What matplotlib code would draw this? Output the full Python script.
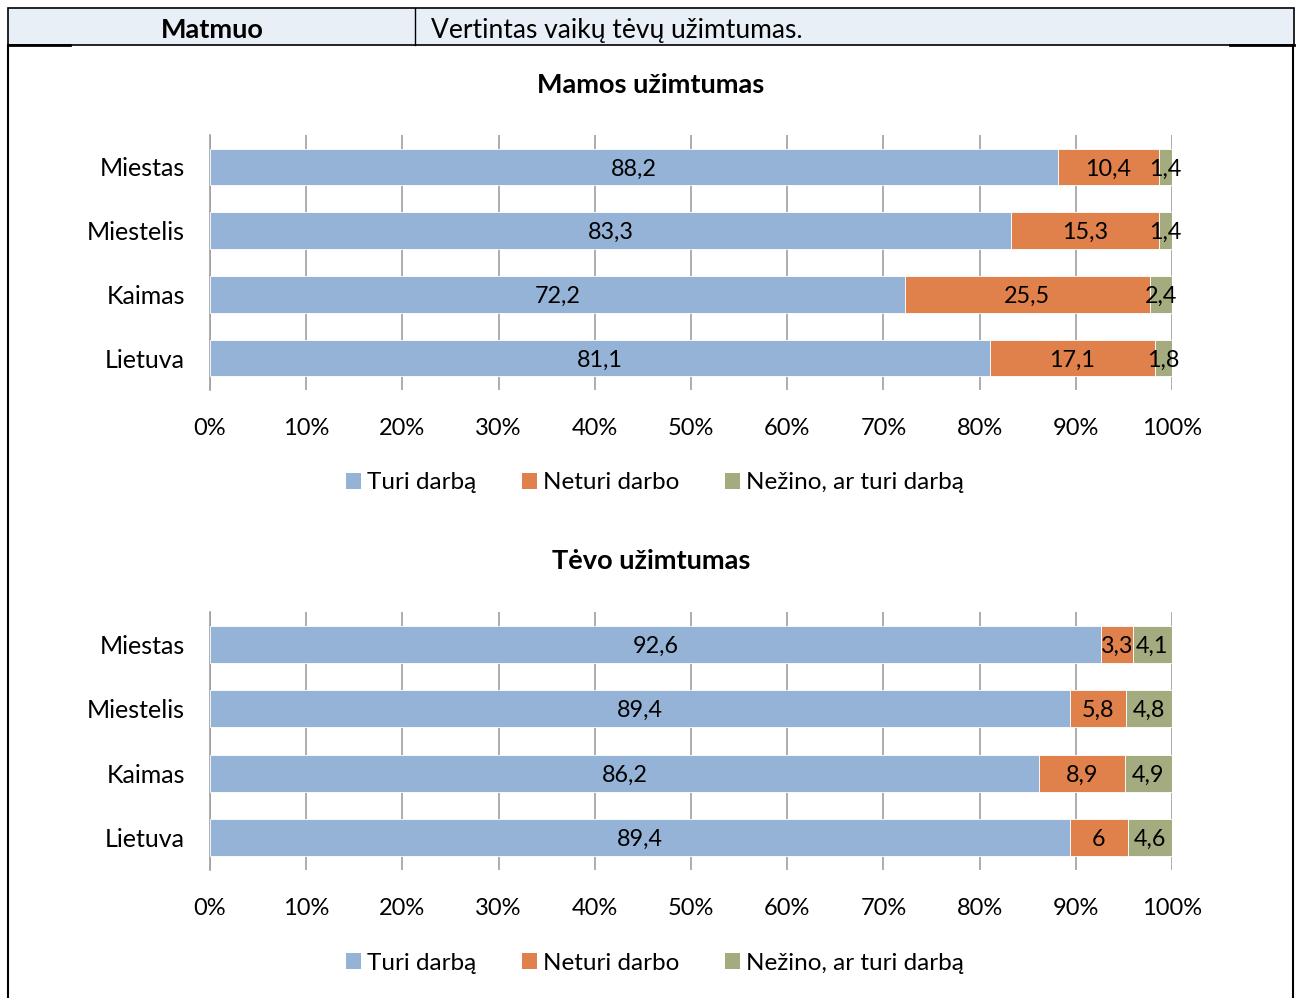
import matplotlib
matplotlib.use("Agg")
import matplotlib.pyplot as plt
from matplotlib.patches import Rectangle, Patch
from matplotlib.lines import Line2D
import numpy as np

plt.rcParams['font.family'] = ['Lato', 'DejaVu Sans']

categories = ["Miestas", "Miestelis", "Kaimas", "Lietuva"]
series_names = ["Turi darbą", "Neturi darbo", "Nežino, ar turi darbą"]
mama_turi = [88.2, 83.3, 72.2, 81.1]
mama_neturi = [10.4, 15.3, 25.5, 17.1]
mama_nezino = [1.4, 1.4, 2.4, 1.8]
tevas_turi = [92.6, 89.4, 86.2, 89.4]
tevas_neturi = [3.3, 5.8, 8.9, 6.0]
tevas_nezino = [4.1, 4.8, 4.9, 4.6]
tick_labels = ["0%", "10%", "20%", "30%", "40%", "50%", "60%", "70%", "80%", "90%", "100%"]
colors = ["#95B3D7", "#E0804A", "#A4AC7F"]

W, H = 1301, 998
fig = plt.figure(figsize=(W / 100, H / 100), dpi=100)

def fx(x):
    return x / W

def fy(y):
    return 1 - y / H

# Header / table frame
fig.patches.append(Rectangle((fx(8), fy(45)), fx(1294 - 8), (45 - 8) / H,
                             transform=fig.transFigure, facecolor="#E9EFF6",
                             edgecolor="black", linewidth=1.2))
fig.lines.append(Line2D([fx(415), fx(415)], [fy(8), fy(45)], transform=fig.transFigure,
                        color="black", linewidth=1.0))
fig.lines.append(Line2D([fx(8), fx(8)], [fy(45), fy(998)], transform=fig.transFigure,
                        color="black", linewidth=1.5))
fig.lines.append(Line2D([fx(1293), fx(1293)], [fy(45), fy(998)], transform=fig.transFigure,
                        color="black", linewidth=1.5))
fig.lines.append(Line2D([fx(8), fx(70)], [fy(45), fy(45)], transform=fig.transFigure,
                        color="black", linewidth=2))
fig.lines.append(Line2D([fx(1230), fx(1294)], [fy(45), fy(45)], transform=fig.transFigure,
                        color="black", linewidth=2))
fig.text(fx(212), fy(28), "Matmuo", ha="center", va="center_baseline", fontsize=19.5,
         fontweight="bold")
fig.text(fx(431), fy(28), "Vertintas vaikų tėvų užimtumas.", ha="left", va="center_baseline",
         fontsize=19)


def draw_panel(top, bottom, title_y, legend_y, data, title):
    ax = fig.add_axes([fx(210), fy(bottom), fx(1172 - 210), (bottom - top) / H])
    y = np.arange(len(categories))
    left = np.zeros(len(categories))
    for vals, col in zip(data, colors):
        vals = np.array(vals, dtype=float)
        bars = ax.barh(y, vals, left=left, height=0.57, color=col, edgecolor="white",
                       linewidth=0.6, zorder=3)
        for b, v in zip(bars, vals):
            lab = ("%g" % v).replace(".", ",")
            ax.text(b.get_x() + b.get_width() / 2, b.get_y() + b.get_height() / 2, lab,
                    ha="center", va="center_baseline", fontsize=16.8, zorder=4)
        left += vals
    ax.set_xlim(0, 100)
    ax.set_ylim(len(categories) - 0.5, -0.5)
    ax.set_yticks(y)
    ax.set_yticklabels(categories, fontsize=18)
    ax.set_xticks(np.arange(0, 101, 10))
    ax.set_xticklabels(tick_labels, fontsize=17)
    ax.tick_params(axis="x", length=0, pad=20)
    ax.tick_params(axis="y", length=0, pad=18)
    ax.grid(axis="x", color="#A0A0A0", linewidth=1.2, zorder=0)
    for s in ["top", "right", "bottom"]:
        ax.spines[s].set_visible(False)
    ax.spines["left"].set_color("#A0A0A0")
    ax.spines["left"].set_linewidth(1.2)
    fig.text(fx(651), fy(title_y), title, ha="center", va="center", fontsize=19.5,
             fontweight="bold")
    handles = [Patch(facecolor=c, edgecolor="none") for c in colors]
    fig.legend(handles, series_names, loc="center", bbox_to_anchor=(fx(655), fy(legend_y + 1)),
               ncol=3, frameon=False, fontsize=17.5, handlelength=0.6, handleheight=0.6,
               handletextpad=0.25, columnspacing=1.9)
    return ax


draw_panel(135, 390, 85, 482, [mama_turi, mama_neturi, mama_nezino], "Mamos užimtumas")
draw_panel(612, 870, 561, 962, [tevas_turi, tevas_neturi, tevas_nezino], "Tėvo užimtumas")

fig.savefig("out.png", dpi=100, facecolor="white")
